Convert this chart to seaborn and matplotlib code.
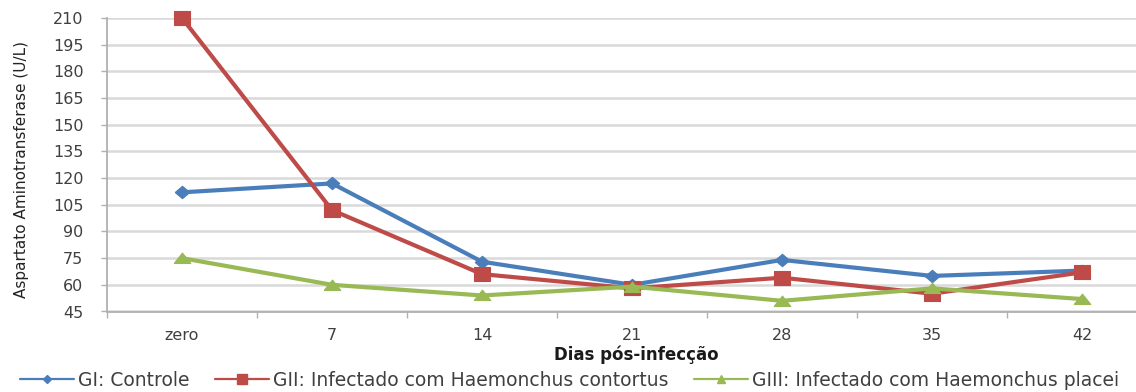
import numpy as np
import pandas as pd
import matplotlib
matplotlib.use("Agg")
import matplotlib.pyplot as plt
from matplotlib.lines import Line2D
import seaborn as sns

# Dias pós-infecção (categorias do eixo x)
dias = ["zero", "7", "14", "21", "28", "35", "42"]

# Aspartato aminotransferase (U/L) por grupo
gi_controle = [112, 117, 73, 60, 74, 65, 68]
gii_contortus = [210, 102, 66, 58, 64, 55, 67]
giii_placei = [75, 60, 54, 59, 51, 58, 52]

grupos = [
    "GI: Controle",
    "GII: Infectado com Haemonchus contortus",
    "GIII: Infectado com Haemonchus placei",
]
y_ticks = list(range(45, 211, 15))

df = pd.DataFrame({
    "dia": np.tile(np.arange(len(dias)), len(grupos)),
    "ast": gi_controle + gii_contortus + giii_placei,
    "grupo": np.repeat(grupos, len(dias)),
})

sns.set_style("white")
plt.rcParams["font.family"] = ["DejaVu Sans"]

cores = ["#4A7EBB", "#BE4B48", "#98B954"]
# marcadores levemente achatados (losango, quadrado, triângulo)
losango = [(-1, 0), (0, 0.85), (1, 0), (0, -0.85), (-1, 0)]
quadrado = [(-1, -0.8), (1, -0.8), (1, 0.8), (-1, 0.8), (-1, -0.8)]
triangulo = [(-1, -0.6), (1, -0.6), (0, 0.65), (-1, -0.6)]
marcadores = [losango, quadrado, triangulo]
tamanhos = [10.5, 12, 12]

W, H = 1136, 392
fig = plt.figure(figsize=(W / 100, H / 100), dpi=100)
ax = fig.add_axes([107 / W, 1 - 311.5 / H, 1050 / W, (311.5 - 18) / H])

for grupo, cor, mk, ms in zip(grupos, cores, marcadores, tamanhos):
    sub = df[df["grupo"] == grupo]
    sns.lineplot(data=sub, x="dia", y="ast", color=cor, marker=mk,
                 markersize=ms, markeredgecolor=cor, markeredgewidth=0.8,
                 linewidth=3, ax=ax, legend=False, clip_on=False)

ax.set_xlim(-0.5, len(dias) - 0.5)
ax.set_ylim(45, 210)
ax.set_yticks(y_ticks)
ax.set_xticks(range(len(dias)))
ax.set_xticklabels(dias)
ax.set_xticks(np.arange(-0.5, len(dias), 1), minor=True)
ax.set_xlabel("")
ax.set_ylabel("")

ax.yaxis.grid(True, color="#D9D9D9", linewidth=1.8)
ax.xaxis.grid(False)
ax.set_axisbelow(True)
for s in ["top", "right"]:
    ax.spines[s].set_visible(False)
for s in ["left", "bottom"]:
    ax.spines[s].set_color("#B0B0B0")
    ax.spines[s].set_linewidth(1.3)

ax.tick_params(axis="y", length=4, width=1, color="#B0B0B0", pad=13,
               labelsize=11.5, labelcolor="#404040", left=True)
ax.tick_params(axis="x", which="major", length=0, pad=12,
               labelsize=11.5, labelcolor="#404040")
ax.tick_params(axis="x", which="minor", length=4, width=1,
               color="#B0B0B0", bottom=True)

fig.text(22 / W, 1 - 170 / H, "Aspartato Aminotransferase (U/L)",
         rotation=90, ha="center", va="center", fontsize=11,
         color="#222222")
fig.text(636 / W, 1 - 355 / H, "Dias pós-infecção", ha="center",
         va="center", fontsize=12, fontweight="bold", color="#1A1A1A")

legend_mk = ["D", "s", "^"]
legend_ms = [4.5, 6.5, 5.5]
handles = [Line2D([], [], color=c, marker=m, markersize=s, linewidth=1.6,
                  markeredgecolor=c)
           for c, m, s in zip(cores, legend_mk, legend_ms)]
fig.legend(handles, grupos, loc="center left",
           bbox_to_anchor=(20 / W, 1 - 380 / H), ncol=3, frameon=False,
           borderpad=0, borderaxespad=0, handlelength=2.9,
           handletextpad=0.2, columnspacing=1.35, fontsize=13.5,
           labelcolor="#404040")

fig.savefig("out.png", dpi=100)
